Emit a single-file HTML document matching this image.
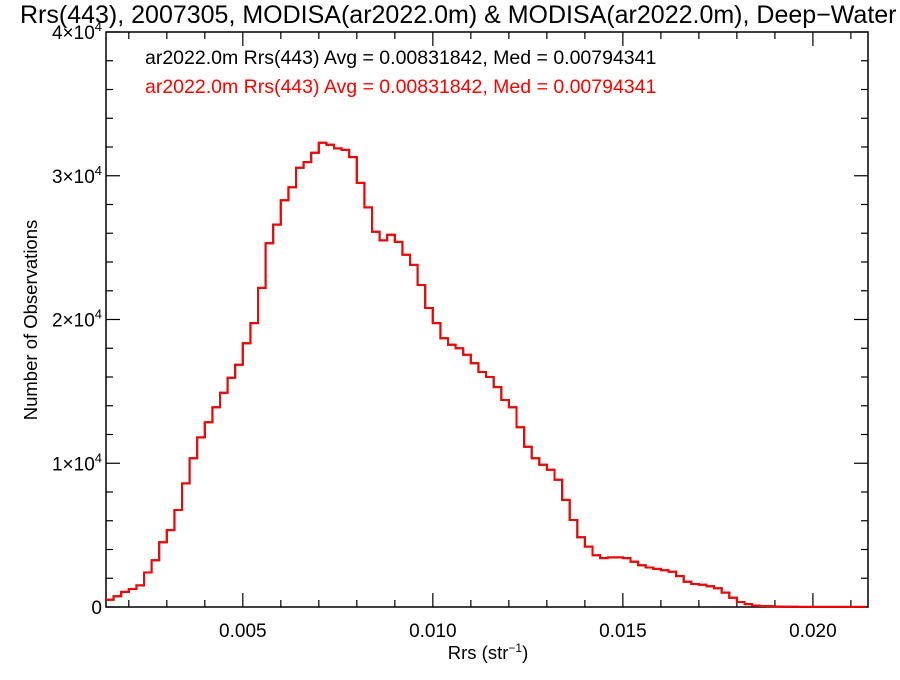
<!DOCTYPE html>
<html><head><meta charset="utf-8"><style>
body{margin:0;background:#fff}
svg text{font-family:"Liberation Sans",sans-serif}
</style></head><body>
<svg id="chart" width="900" height="675" xmlns="http://www.w3.org/2000/svg">
<rect width="900" height="675" fill="#fff"/>
<text x="20" y="23" font-size="25">Rrs(443), 2007305, MODISA(ar2022.0m) &amp; MODISA(ar2022.0m), Deep−Water</text>
<text x="145" y="64" font-size="19.5">ar2022.0m Rrs(443) Avg = 0.00831842, Med = 0.00794341</text>
<text x="145" y="93" font-size="19.5" fill="#ff0000">ar2022.0m Rrs(443) Avg = 0.00831842, Med = 0.00794341</text>
<g id="axes"></g>
<path id="s1" fill="none" stroke="#000" stroke-width="2"/>
<path id="s2" fill="none" stroke="#ff0000" stroke-width="2"/>
<text x="488" y="659" font-size="18.5" text-anchor="middle">Rrs (str<tspan font-size="12" dy="-7">−1</tspan><tspan dy="7">)</tspan></text>
<text transform="translate(37,320) rotate(-90)" font-size="18.5" text-anchor="middle">Number of Observations</text>
</svg>
<script>
const binStart = 0.0014;
const binWidth = 0.0002;
const counts = [500,750,1050,1250,1500,2400,3250,4500,5350,6750,8600,10350,11800,12850,13900,14900,15950,16850,18350,19750,22200,25300,26600,28300,29200,30550,30950,31600,32300,32150,31900,31800,31300,29500,27800,26100,25500,25900,25400,24500,23800,22400,20800,19750,18700,18250,18000,17550,16950,16350,16000,15300,14400,13900,12500,11150,10350,9900,9550,8850,7450,6050,4850,4200,3600,3400,3450,3450,3400,3150,2900,2750,2650,2550,2450,2150,1750,1600,1550,1450,1300,1000,650,350,200,100,70,50,30,20,15,10,10,8,6,5,5,5,5,5];
const xTicks = [0.005,0.010,0.015,0.020];
const xTickLabels = ["0.005","0.010","0.015","0.020"];
const yTicks = [0,10000,20000,30000,40000];
const yTickMant = ["0","1","2","3","4"];
const X0=106,X1=868,Y0=607,Y1=32, xMin=0.0014,xMax=0.02145,yMin=0,yMax=40000;
const sx=v=>X0+(v-xMin)/(xMax-xMin)*(X1-X0);
const sy=v=>Y0-(v-yMin)/(yMax-yMin)*(Y0-Y1);
const NS="http://www.w3.org/2000/svg";
const ax=document.getElementById('axes');
function mk(t,a){const e=document.createElementNS(NS,t);for(const k in a)e.setAttribute(k,a[k]);ax.appendChild(e);return e;}
const frame=mk('rect',{x:X0,y:Y1,width:X1-X0,height:Y0-Y1,fill:'none',stroke:'#000','stroke-width':1.5});


for(let v=0.002;v<=xMax;v+=0.001){const x=sx(v);const major=xTicks.some(t=>Math.abs(t-v)<1e-9);const L=major?14:7;
 const t1=mk('line',{x1:x,x2:x,y1:Y0,y2:Y0-L,stroke:'#000','stroke-width':1.2});
 
 
 const t2=mk('line',{x1:x,x2:x,y1:Y1,y2:Y1+L,stroke:'#000','stroke-width':1.2});
 
 }
xTicks.forEach((v,i)=>{const t=mk('text',{x:sx(v),y:Y0+30,'font-size':19,'text-anchor':'middle'});t.textContent=xTickLabels[i];
 
 });
for(let v=0;v<=yMax;v+=2000){const y=sy(v);const major=v%10000===0;const L=major?14:7;
 const t1=mk('line',{x1:X0,x2:X0+L,y1:y,y2:y,stroke:'#000','stroke-width':1.2});
 
 
 const t2=mk('line',{x1:X1,x2:X1-L,y1:y,y2:y,stroke:'#000','stroke-width':1.2});
 
 }
yTicks.forEach((v,i)=>{const y=sy(v);const t=mk('text',{x:X0-4,y:y+7,'font-size':19,'text-anchor':'end'});
 if(v===0){t.textContent='0';}else{t.innerHTML=yTickMant[i]+'×10<tspan font-size="13" dy="-8">4</tspan>';}
 
 });
let d='';
counts.forEach((c,i)=>{const a=Math.max(sx(binStart+i*binWidth),X0),b=Math.min(sx(binStart+(i+1)*binWidth),X1);if(a>=X1)return;const y=sy(c);d+=(i===0?'M':'L')+a.toFixed(1)+','+y.toFixed(1)+'L'+b.toFixed(1)+','+y.toFixed(1);});
document.getElementById('s1').setAttribute('d',d);
document.getElementById('s2').setAttribute('d',d);
</script>
</body></html>
